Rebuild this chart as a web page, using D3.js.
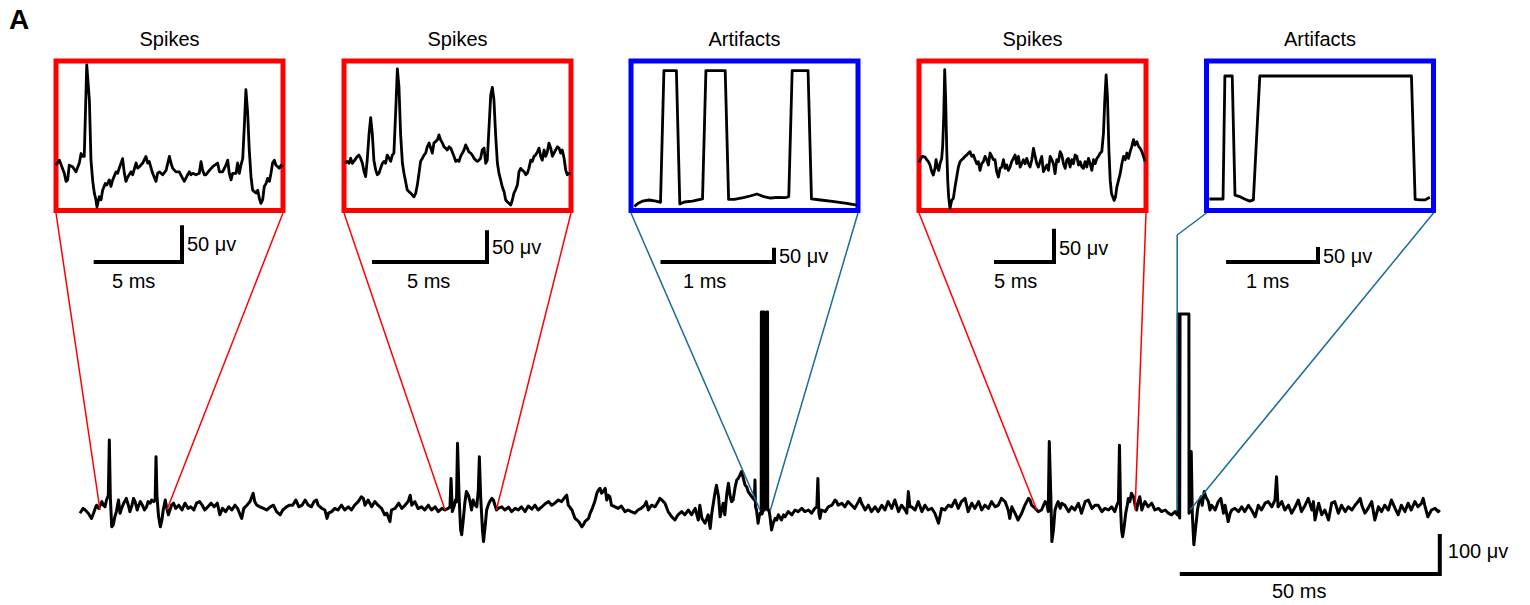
<!DOCTYPE html>
<html><head><meta charset="utf-8">
<script src="https://cdn.jsdelivr.net/npm/d3@7"></script>
<style>
html,body{margin:0;padding:0;background:#fff;}
svg{display:block;}
text{font-family:"Liberation Sans",Arial,sans-serif;fill:#000;}
</style>
</head><body>
<svg id="chart" width="1530" height="605"></svg>
<script>
// ---------- DATA (time in ms, amplitude in µV) ----------
// Main recording, split in four segments
const mainSeg1 = [[0,-8],[0.6,4],[1.0,0],[1.6,-8],[2.2,-21],[2.6,-8],[3.0,7],[3.2,12],[3.6,4],[4.2,21],[4.5,12],[4.8,8],[5.1,25],[5.45,37],[5.64,175],[5.83,33],[6.1,-42],[6.4,-37],[6.7,-17],[7.0,-4],[7.4,25],[7.7,-8],[8.0,4],[8.4,17],[8.9,29],[9.3,12],[9.6,-4],[10.0,12],[10.3,29],[10.6,21],[11.0,0],[11.3,12],[11.6,21],[12.0,12],[12.4,0],[12.8,8],[13.1,21],[13.5,17],[13.8,25],[14.2,21],[14.45,25],[14.62,133],[14.8,35],[15.1,-15],[15.45,-42],[15.75,-25],[16.0,0],[16.4,25],[16.7,4],[17.0,-12],[17.3,0],[17.6,12],[18.0,17],[18.4,4],[19.0,12],[19.6,0],[20.2,17],[20.8,4],[21.3,8],[21.9,0],[22.4,17],[23.0,21],[23.5,12],[24.0,0],[24.6,8],[25.2,17],[25.8,8],[26.4,17],[26.9,-12],[27.4,4],[28.0,-4],[28.6,8],[29.2,0],[29.8,12],[30.3,4],[30.8,-12],[31.1,-21],[31.5,4],[32.1,12],[32.7,21],[33.3,42],[33.6,21],[34.0,12],[34.6,8],[35.3,4],[35.9,0],[36.6,8],[37.2,12],[37.8,-4],[38.5,-12],[39.0,0],[39.7,8],[40.3,12],[40.9,12],[41.5,25],[42.1,8],[42.7,12],[43.3,25],[43.9,12],[44.5,8],[45.0,21],[45.5,25],[45.8,12],[46.5,4],[47.1,0],[47.5,-21],[47.8,-8],[48.4,-4],[49.0,4],[49.6,0],[50.3,12],[50.9,0],[51.6,8],[52.2,0],[52.8,12],[53.5,21],[54.1,33],[54.5,29],[54.8,12],[55.4,25],[56.1,8],[56.7,21],[57.3,12],[58.0,4],[58.6,-12],[59.0,-8],[59.6,-29],[59.9,0],[60.6,4],[61.3,17],[61.9,4],[62.5,12],[63.1,21],[63.5,37],[63.8,12],[64.4,21],[65.0,4]];
const mainSeg2 = [[65.1,4],[65.7,8],[66.3,0],[67.0,12],[67.6,0],[68.3,8],[68.9,-4],[69.6,4],[70.2,0],[70.8,4],[71.15,8],[71.35,79],[71.6,-4],[72.0,12],[72.2,25],[72.4,20],[72.6,167],[72.9,33],[73.2,-50],[73.4,-62],[73.7,-25],[74.0,17],[74.3,46],[74.7,37],[75.0,21],[75.3,0],[75.6,25],[76.0,12],[76.3,8],[76.6,50],[76.8,133],[77.05,33],[77.4,-50],[77.6,-79],[77.9,-42],[78.2,0],[78.5,12],[78.8,21],[79.2,29],[79.5,25],[79.8,12],[80.1,0],[80.4,4],[81.1,8],[81.7,0],[82.4,7],[83.0,-4],[83.7,4],[84.3,0],[84.9,8],[85.6,-4],[86.2,10],[86.9,2],[87.5,12],[88.1,0],[88.8,8],[89.4,15],[90.1,21],[90.7,12],[91.3,17],[92.0,25],[92.6,21],[93.3,33],[93.6,37],[93.9,12],[94.6,0],[95.2,-21],[95.9,-29],[96.5,-42],[96.8,-37],[97.1,-29],[97.8,-21],[98.1,-8],[98.4,0],[99.0,21],[99.4,42],[99.7,50],[100.0,54],[100.3,42],[100.6,46],[101.0,54],[101.3,25],[101.6,37],[101.9,33],[102.2,12],[102.9,8],[103.5,4],[104.1,10],[104.8,-4],[105.4,0],[106.0,-4],[106.7,-8],[107.3,0],[107.9,4],[108.6,12],[108.9,21],[109.3,0],[109.9,12],[110.6,8],[111.2,21],[111.5,29],[111.9,25],[112.5,17],[113.1,-4],[113.8,-17],[114.4,-25],[115.0,-12],[115.7,-4],[116.3,-12],[117.0,0],[117.6,-12],[118.3,4],[118.9,-25],[119.2,12],[119.6,-21],[120.2,-33],[120.8,-12],[121.2,-46],[121.5,-8],[122.1,42],[122.4,62],[122.8,33],[123.1,-17],[123.4,0],[123.7,17],[124.0,-12],[124.4,42],[124.7,67],[125.0,37],[125.3,21],[125.6,25],[126.0,58],[126.3,75],[126.6,79],[126.9,87],[127.2,96],[127.5,83],[127.9,62],[128.2,58],[128.5,46],[129.2,33],[129.7,25],[129.8,75],[129.9,8],[130.1,0],[130.4,-33],[130.6,-17],[130.8,-8]];
const mainSeg3 = [[131.0,-10],[131.03,495],[131.13,495],[131.16,-10],[131.38,0],[131.41,495],[131.56,495],[131.59,0],[132.05,8],[132.08,495],[132.22,495],[132.25,0],[132.5,0],[132.7,-17],[133.0,-50],[133.3,-33],[133.7,-21],[134.0,-25],[134.3,-12],[134.9,-25],[135.3,-12],[135.6,-17],[136.2,-4],[136.9,-12],[137.5,0],[138.1,-4],[138.8,4],[139.4,-4],[140.1,0],[140.7,-8],[141.3,4],[141.7,8],[141.9,79],[142.1,-8],[142.3,-21],[142.6,0],[143.3,-4],[143.9,8],[144.6,12],[145.2,25],[145.5,21],[145.8,12],[146.5,17],[147.1,8],[147.7,21],[148.4,12],[149.0,4],[149.7,21],[150.0,29],[150.3,17],[151.0,0],[151.6,12],[152.2,-4],[152.9,8],[153.5,-4],[154.2,12],[154.8,0],[155.4,21],[156.1,4],[156.7,25],[157.4,-4],[158.0,12],[158.7,0],[159.0,-8],[159.3,46],[159.6,8],[159.9,8],[160.6,0],[161.2,21],[161.9,-4],[162.5,12],[163.1,0],[163.8,4],[164.4,-8],[165.1,-33],[165.7,4],[166.3,0],[167.0,12],[167.6,8],[168.3,25],[168.9,4],[169.5,21],[170.2,29],[170.8,-4],[171.5,17],[172.1,4],[172.8,21],[173.4,0],[174.0,12],[174.7,4],[175.3,21],[176.0,8],[176.6,12],[177.2,29],[177.9,21],[178.5,0],[178.8,-21],[179.2,8],[179.8,-8],[180.4,-25],[181.1,-8],[181.7,12],[182.4,29],[182.7,25],[183.0,12],[183.7,4],[184.3,-4],[184.9,0],[185.6,21],[185.9,17],[186.2,-4],[186.4,171],[186.7,33],[186.9,-79],[187.2,-50],[187.5,0],[187.8,12],[188.1,21],[188.5,4],[188.8,17],[189.4,12],[190.1,-4],[190.7,8],[191.3,0],[192.0,17],[192.6,-8],[193.3,21],[193.9,25],[194.6,4],[195.2,12],[195.8,12]];
const mainSeg4 = [[196.5,-4],[197.1,4],[197.8,0],[198.4,8],[199.0,-4],[199.4,12],[199.7,21],[199.9,162],[200.1,8],[200.3,-50],[200.5,-67],[200.8,-42],[201.1,-8],[201.4,12],[201.6,29],[201.9,21],[202.2,42],[202.6,33],[202.9,12],[203.2,0],[203.5,21],[203.8,33],[204.2,0],[204.5,12],[204.8,21],[205.4,8],[206.1,17],[206.7,0],[207.4,4],[208.0,-4],[208.7,0],[209.3,-8],[209.9,-12],[210.6,-4],[211.0,-12],[211.18,-12],[211.2,490],[211.29,490],[211.32,-15],[211.48,-20],[211.55,490],[213.25,490],[213.28,-8],[213.45,0],[213.7,146],[213.9,-8],[214.2,-87],[214.5,-50],[214.9,0],[215.2,21],[215.6,33],[215.8,12],[216.2,46],[216.5,33],[217.0,21],[217.3,0],[217.6,12],[218.3,0],[218.9,21],[219.4,29],[219.9,-8],[220.2,12],[220.8,-29],[221.2,-8],[221.5,0],[222.1,4],[222.8,-4],[223.4,8],[224.0,-4],[224.7,12],[225.3,0],[226.0,-17],[226.6,12],[227.2,0],[227.9,17],[228.5,21],[229.2,8],[229.8,25],[230.1,83],[230.4,8],[231.1,21],[231.7,0],[232.4,12],[233.0,-8],[233.7,8],[234.3,25],[234.9,-4],[235.6,12],[236.2,29],[236.9,0],[237.2,21],[237.5,-25],[238.2,17],[238.8,-12],[239.4,0],[240.1,-25],[240.7,17],[241.3,21],[242.0,-8],[242.6,12],[243.3,-4],[243.9,8],[244.6,0],[245.2,12],[245.8,21],[246.2,29],[246.5,12],[247.1,-8],[247.7,4],[248.4,21],[249.0,-25],[249.7,8],[250.3,-4],[250.9,12],[251.6,0],[252.2,25],[252.9,4],[253.5,-12],[254.1,12],[254.8,-4],[255.4,17],[256.0,0],[256.7,21],[257.3,8],[258.0,17],[258.3,29],[258.6,12],[259.2,-17],[259.9,0],[260.6,4],[261.2,-4],[261.5,0]];

// Insets (local time in ms from window start, µV)
const inset1 = [[0,2],[0.19,9],[0.47,-9],[0.57,-20],[0.66,-18],[0.75,2],[0.94,0],[1.13,-7],[1.32,5],[1.42,18],[1.51,14],[1.6,14],[1.74,139],[1.89,91],[1.98,9],[2.08,-20],[2.17,-36],[2.26,-45],[2.32,-55],[2.45,-41],[2.55,-45],[2.64,-32],[2.79,-23],[2.87,-25],[3.02,-18],[3.11,-27],[3.21,-18],[3.4,-7],[3.49,-9],[3.58,-2],[3.77,11],[3.87,-9],[3.96,-20],[4.06,-14],[4.25,-7],[4.34,-11],[4.53,5],[4.62,-2],[4.72,0],[4.91,5],[5.09,14],[5.19,5],[5.28,7],[5.47,-9],[5.66,-20],[5.75,-9],[5.85,-7],[6.04,-11],[6.23,-5],[6.42,14],[6.51,5],[6.6,-2],[6.79,-7],[6.98,-7],[7.17,-16],[7.26,-20],[7.45,-11],[7.55,-7],[7.64,-11],[7.74,-9],[7.92,-11],[8.11,-9],[8.21,7],[8.3,-5],[8.4,-11],[8.49,-11],[8.68,-5],[8.87,0],[9.15,5],[9.25,-7],[9.43,-7],[9.62,2],[9.72,9],[9.81,-9],[9.91,-18],[10.0,-9],[10.19,-9],[10.28,5],[10.38,-9],[10.47,2],[10.57,11],[10.66,55],[10.75,105],[10.85,73],[10.94,23],[11.04,-14],[11.13,-32],[11.23,-34],[11.32,-36],[11.42,-32],[11.51,-43],[11.6,-50],[11.7,-45],[11.79,-27],[11.89,-23],[11.98,-16],[12.08,-20],[12.17,-9],[12.26,5],[12.36,9],[12.45,2],[12.55,0],[12.64,-2],[12.74,2],[12.83,0]];
const inset2 = [[0.04,0],[0.14,3],[0.22,0],[0.29,8],[0.36,0],[0.43,3],[0.58,11],[0.65,13],[0.72,8],[0.8,0],[0.87,-13],[0.94,-21],[1.01,5],[1.09,47],[1.16,72],[1.23,47],[1.3,5],[1.38,-11],[1.45,-18],[1.52,-16],[1.59,-8],[1.67,0],[1.74,3],[1.81,0],[1.88,13],[1.96,8],[2.03,3],[2.1,13],[2.17,16],[2.25,84],[2.32,149],[2.39,121],[2.46,47],[2.54,0],[2.61,-16],[2.68,-29],[2.75,-42],[2.83,-45],[2.9,-47],[3.04,-53],[3.12,-47],[3.19,-34],[3.26,-16],[3.33,3],[3.41,8],[3.48,13],[3.55,16],[3.62,26],[3.7,32],[3.77,24],[3.84,16],[3.91,32],[4.06,37],[4.13,45],[4.2,37],[4.28,32],[4.35,26],[4.42,24],[4.49,21],[4.57,26],[4.64,24],[4.78,11],[4.86,3],[4.93,5],[5.0,3],[5.07,11],[5.22,21],[5.29,29],[5.36,24],[5.43,18],[5.51,16],[5.58,13],[5.65,8],[5.72,5],[5.8,3],[5.87,5],[5.94,8],[6.01,21],[6.09,24],[6.16,0],[6.23,5],[6.3,53],[6.38,108],[6.45,120],[6.52,100],[6.59,47],[6.67,0],[6.74,-16],[6.81,-26],[6.88,-37],[6.96,-45],[7.03,-58],[7.1,-61],[7.17,-63],[7.25,-66],[7.32,-58],[7.39,-47],[7.46,-42],[7.54,-34],[7.61,-13],[7.68,-8],[7.75,-11],[7.83,-13],[7.9,-18],[7.97,-16],[8.04,-8],[8.12,5],[8.19,3],[8.26,11],[8.33,13],[8.41,18],[8.48,24],[8.55,11],[8.62,5],[8.7,21],[8.77,11],[8.84,18],[8.91,32],[8.99,24],[9.06,11],[9.13,16],[9.2,21],[9.28,26],[9.35,24],[9.42,16],[9.49,21],[9.57,8],[9.64,-11],[9.71,-18],[9.78,-16],[9.86,-16]];
const inset3 = [[0.03,-23],[0.06,-12],[0.10,-4],[0.16,0],[0.22,-4],[0.26,-8],[0.29,454],[0.40,454],[0.43,-14],[0.47,-7],[0.54,-4],[0.63,4],[0.66,454],[0.83,454],[0.86,2],[0.91,2],[0.99,8],[1.05,14],[1.11,21],[1.17,12],[1.23,7],[1.29,9],[1.36,8],[1.39,12],[1.42,454],[1.56,454],[1.59,4],[1.67,0],[1.79,-6],[1.90,-12],[1.99,-18]];
const inset4 = [[0,-1],[0.14,4],[0.28,8],[0.5,7],[0.64,3],[0.78,0],[0.92,-5],[1.06,-15],[1.19,-20],[1.33,-10],[1.42,3],[1.53,-8],[1.64,-13],[1.75,-3],[1.89,5],[1.97,23],[2.06,68],[2.14,138],[2.22,93],[2.31,18],[2.39,-28],[2.47,-53],[2.58,-70],[2.72,-58],[2.86,-55],[3.0,-38],[3.14,-23],[3.28,-8],[3.42,0],[3.56,3],[3.69,5],[3.83,8],[3.97,10],[4.11,13],[4.25,15],[4.39,8],[4.53,10],[4.67,3],[4.81,-3],[4.94,0],[5.08,-13],[5.22,-3],[5.36,0],[5.5,8],[5.64,3],[5.78,-5],[5.92,13],[6.06,8],[6.19,3],[6.33,3],[6.47,-15],[6.61,-23],[6.75,-10],[6.89,-8],[7.03,3],[7.17,-10],[7.31,-5],[7.44,-13],[7.58,-8],[7.72,0],[7.86,5],[8.0,10],[8.14,-3],[8.28,8],[8.42,-8],[8.56,-3],[8.69,3],[8.83,-3],[8.97,5],[9.11,-3],[9.25,-8],[9.39,3],[9.53,20],[9.67,8],[9.81,-3],[9.94,-8],[10.08,0],[10.22,8],[10.36,-15],[10.5,-10],[10.64,-5],[10.78,-13],[10.92,8],[11.06,3],[11.19,-3],[11.33,-18],[11.47,3],[11.61,0],[11.75,15],[11.89,10],[12.03,-3],[12.17,-10],[12.31,3],[12.44,5],[12.58,-8],[12.72,3],[12.86,-3],[13.0,10],[13.14,8],[13.28,-5],[13.42,0],[13.56,-8],[13.69,-10],[13.83,0],[13.97,-8],[14.11,5],[14.25,-3],[14.39,-13],[14.53,3],[14.67,-3],[14.81,5],[14.94,8],[15.08,13],[15.22,15],[15.36,43],[15.47,93],[15.58,130],[15.69,98],[15.81,18],[15.92,-28],[16.03,-48],[16.14,-53],[16.25,-58],[16.36,-53],[16.47,-38],[16.61,-28],[16.75,-18],[16.89,-3],[17.03,8],[17.17,3],[17.31,13],[17.44,5],[17.58,15],[17.72,23],[17.86,33],[17.97,25],[18.14,30],[18.28,23],[18.42,20],[18.56,15],[18.69,8],[18.83,0]];
const inset5 = [[0.03,0],[0.18,0],[0.2,410],[0.28,410],[0.31,13],[0.36,8],[0.42,-1],[0.47,-7],[0.51,-3],[0.58,410],[2.23,410],[2.27,-1],[2.32,-3],[2.38,-3],[2.43,6]];

const insetTitles  = ["Spikes", "Spikes", "Artifacts", "Spikes", "Artifacts"];
const insetKinds   = ["spike", "spike", "artifact", "spike", "artifact"];
const insetStartMs = [3.85, 70.2, 130.77, 184.0, 211.0];   // window start on main trace
const insetSpanMs  = [12.85, 9.87, 2.0, 18.9, 2.47];       // window length
const insetBarMs   = [5, 5, 1, 5, 1];
const insetBarUv   = 50;
const mainBarMs = 50, mainBarUv = 100;
const insetData = [inset1, inset2, inset3, inset4, inset5];

// ---------- LAYOUT ----------
const svg = d3.select("#chart");
const xMain = d3.scaleLinear().domain([0, 262]).range([80, 80 + 262 * 5.2]);
const yMain = d3.scaleLinear().domain([0, 100]).range([510, 470]);
const mainData = [].concat(mainSeg1, mainSeg2, mainSeg3, mainSeg4);
const mkLine = (xs, ys) => d3.line().x(d => xs(d[0])).y(d => ys(d[1]));

const BOX_W = 227, BOX_TOP = 61, BOX_BOT = 210.5, BOX_SW = 5;
const layout = [
  {x0: 56,     base: 166.7, k: 0.733, barRight: 182,  uvY: 251, msX: 112},
  {x0: 344,    base: 163.3, k: 0.633, barRight: 487,  uvY: 254, msX: 407},
  {x0: 631,    base: 200,   k: 0.285, barRight: 774,  uvY: 263, msX: 683},
  {x0: 919,    base: 161.7, k: 0.667, barRight: 1054, uvY: 255, msX: 994},
  {x0: 1206.5, base: 199,   k: 0.30,  barRight: 1318, uvY: 263, msX: 1246}
];
const BAR_Y = 262;

// main trace
svg.append("path").datum(mainData)
  .attr("d", mkLine(xMain, yMain))
  .attr("fill", "none").attr("stroke", "#000").attr("stroke-width", 3)
  .attr("stroke-linejoin", "round");

// insets
insetData.forEach((data, i) => {
  const L = layout[i];
  const xs = d3.scaleLinear().domain([0, insetSpanMs[i]]).range([L.x0, L.x0 + BOX_W]);
  const ys = d3.scaleLinear().domain([0, 50]).range([L.base, L.base - 50 * L.k]);
  const boxCol = insetKinds[i] === "spike" ? "#ff0000" : "#0000ff";
  const conCol = insetKinds[i] === "spike" ? "#ff0000" : "#1a6b96";
  const yb = BOX_BOT + BOX_SW / 2;

  // connectors
  const xl = xMain(insetStartMs[i]), xr = xMain(insetStartMs[i] + insetSpanMs[i]);
  const ym = yMain(0);
  if (i === 4) {
    svg.append("path").attr("d", `M${L.x0},${yb}L${xl},${yb + 22}L${xl},${ym}`)
      .attr("fill", "none").attr("stroke", conCol).attr("stroke-width", 1.5);
  } else {
    svg.append("line").attr("x1", L.x0).attr("y1", yb).attr("x2", xl).attr("y2", ym)
      .attr("stroke", conCol).attr("stroke-width", 1.5);
  }
  svg.append("line").attr("x1", L.x0 + BOX_W).attr("y1", yb).attr("x2", xr).attr("y2", ym)
    .attr("stroke", conCol).attr("stroke-width", 1.5);

  // box
  svg.append("rect").attr("x", L.x0).attr("y", BOX_TOP).attr("width", BOX_W)
    .attr("height", BOX_BOT - BOX_TOP).attr("fill", "none")
    .attr("stroke", boxCol).attr("stroke-width", BOX_SW);

  // trace
  svg.append("path").datum(data).attr("d", mkLine(xs, ys))
    .attr("fill", "none").attr("stroke", "#000").attr("stroke-width", 2.8)
    .attr("stroke-linejoin", "round");

  // title
  svg.append("text").attr("x", L.x0 + BOX_W / 2).attr("y", 46)
    .attr("text-anchor", "middle").attr("font-size", 20).text(insetTitles[i]);

  // scale bar
  const hLen = xs(insetBarMs[i]) - xs(0);
  const vLen = ys(0) - ys(insetBarUv);
  svg.append("path")
    .attr("d", `M${L.barRight - hLen},${BAR_Y}H${L.barRight}V${BAR_Y - vLen}`)
    .attr("fill", "none").attr("stroke", "#000").attr("stroke-width", 4)
    .attr("stroke-linejoin", "miter");
  svg.append("text").attr("x", L.barRight + 5).attr("y", L.uvY)
    .attr("font-size", 20).text(insetBarUv + " μv");
  svg.append("text").attr("x", L.msX).attr("y", 288)
    .attr("font-size", 20).text(insetBarMs[i] + " ms");
});

// main scale bar
const mEnd = 261.5, mBarY = 574;
const mh = xMain(mEnd) - xMain(mEnd - mainBarMs);
const mv = yMain(0) - yMain(mainBarUv);
svg.append("path")
  .attr("d", `M${xMain(mEnd) - mh},${mBarY}H${xMain(mEnd)}V${mBarY - mv}`)
  .attr("fill", "none").attr("stroke", "#000").attr("stroke-width", 4);
svg.append("text").attr("x", xMain(mEnd) + 8).attr("y", 558)
  .attr("font-size", 20).text(mainBarUv + " μv");
svg.append("text").attr("x", 1272).attr("y", 598)
  .attr("font-size", 20).text(mainBarMs + " ms");

// panel letter
svg.append("text").attr("x", 9).attr("y", 29).attr("font-size", 28)
  .attr("font-weight", "bold").text("A");
</script>
</body></html>
